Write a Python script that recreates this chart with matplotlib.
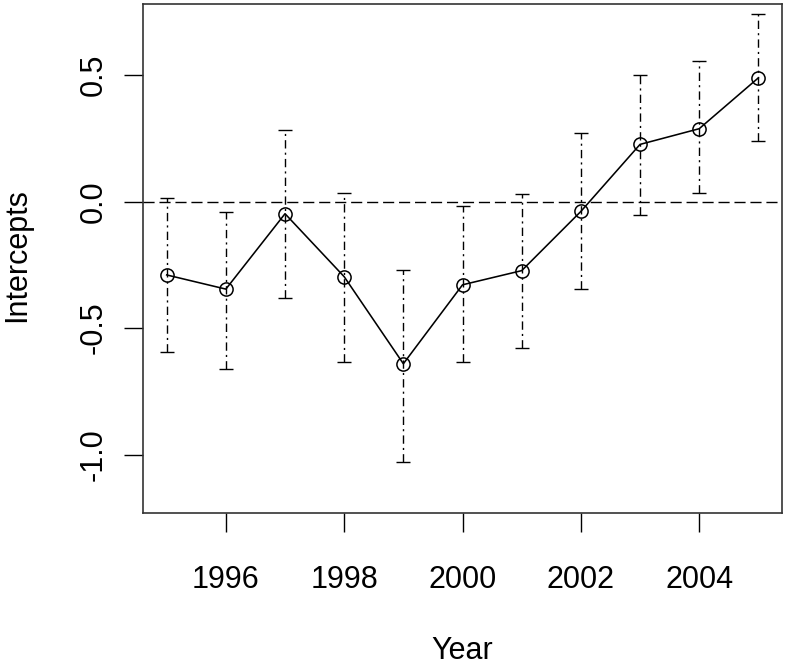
import matplotlib.pyplot as plt
import numpy as np

# Data
years = [1995, 1996, 1997, 1998, 1999, 2000, 2001, 2002, 2003, 2004, 2005]
intercepts = [-0.290, -0.346, -0.048, -0.297, -0.641, -0.329, -0.273, -0.039, 0.226, 0.288, 0.489]
lower = [-0.596, -0.663, -0.383, -0.633, -1.031, -0.633, -0.578, -0.346, -0.053, 0.032, 0.240]
upper = [0.013, -0.040, 0.281, 0.032, -0.271, -0.019, 0.031, 0.271, 0.499, 0.554, 0.740]
xticks = [1996, 1998, 2000, 2002, 2004]
yticks = [-1.0, -0.5, 0.0, 0.5]


def make_plot():
    plt.rcParams['font.family'] = ['Liberation Sans', 'DejaVu Sans']

    fig = plt.figure(figsize=(7.85, 6.67), dpi=100)
    ax = fig.add_axes([0.1822, 0.2309, 0.8140, 0.7631])

    x = np.array(years)
    y = np.array(intercepts)
    yerr = np.vstack([y - np.array(lower), np.array(upper) - y])

    # error bars: dot-dash stems, short solid caps
    eb = ax.errorbar(x, y, yerr=yerr, fmt='none', ecolor='black', elinewidth=1.0,
                     capsize=4.7, capthick=1.0, zorder=2)
    eb[2][0].set_linestyle((0, (6, 3, 1.5, 3)))

    # reference line at zero
    ax.axhline(0, color='black', linewidth=1.0, linestyle=(0, (8, 3.5)), zorder=1)

    # estimates
    ax.plot(x, y, color='black', linewidth=1.15, marker='o', markersize=9.5,
            markerfacecolor='none', markeredgecolor='black', markeredgewidth=1.1, zorder=3)

    ax.set_xlim(1994.6, 2005.4)
    ax.set_ylim(-1.231, 0.781)

    ax.set_xticks(xticks)
    ax.set_xticklabels([str(t) for t in xticks])
    ax.set_yticks(yticks)
    ax.set_yticklabels(['%.1f' % t for t in yticks], rotation=90, va='center')

    ax.tick_params(axis='x', length=14, width=1.0, pad=23.5, labelsize=22, color='black')
    ax.tick_params(axis='y', length=14, width=1.0, pad=11, labelsize=22, color='black')

    for s in ax.spines.values():
        s.set_linewidth(1.2)
        s.set_color('#333333')

    ax.set_xlabel('Year', fontsize=22, va='center')
    ax.xaxis.set_label_coords(0.5, -0.272)
    ax.set_ylabel('Intercepts', fontsize=22, va='center')
    ax.yaxis.set_label_coords(-0.197, 0.507)

    fig.savefig('out.png', dpi=100)
    plt.close(fig)


if __name__ == "__main__":
    make_plot()
